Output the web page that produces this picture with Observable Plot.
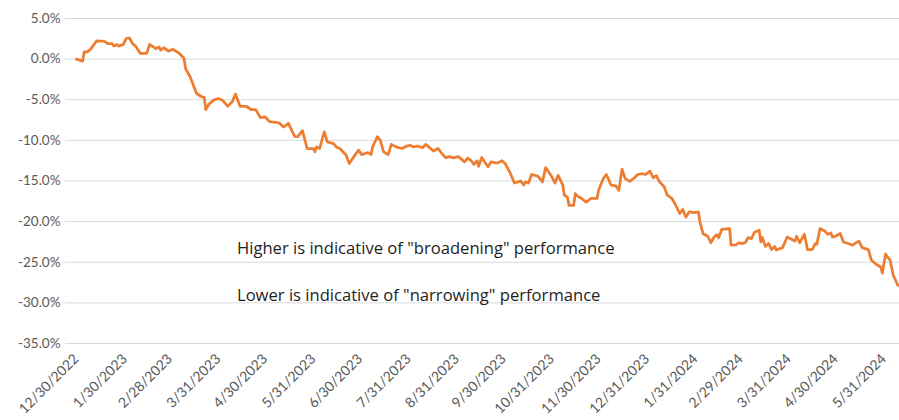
<!DOCTYPE html>
<html><head><meta charset="utf-8">
<script src="https://cdn.jsdelivr.net/npm/d3@7"></script>
<script src="https://cdn.jsdelivr.net/npm/@observablehq/plot@0.6"></script>
<style>body{margin:0;background:#fff;}</style>
</head><body><div id="chart"></div>
<script>
const dates = [
"2022-12-30","2023-01-03","2023-01-04","2023-01-06","2023-01-08","2023-01-12","2023-01-17","2023-01-19","2023-01-22","2023-01-23",
"2023-01-25","2023-01-26","2023-01-29","2023-01-31","2023-02-02","2023-02-04","2023-02-06","2023-02-09","2023-02-13","2023-02-15",
"2023-02-19","2023-02-21","2023-02-22","2023-02-24","2023-02-27","2023-03-02","2023-03-06","2023-03-09","2023-03-10","2023-03-13",
"2023-03-17","2023-03-20","2023-03-22","2023-03-23","2023-03-25","2023-03-28","2023-03-31","2023-04-03","2023-04-06","2023-04-09",
"2023-04-11","2023-04-14","2023-04-18","2023-04-21","2023-04-24","2023-04-27","2023-04-30","2023-05-03","2023-05-09","2023-05-12",
"2023-05-15","2023-05-19","2023-05-21","2023-05-24","2023-05-27","2023-05-31","2023-06-01","2023-06-02","2023-06-04","2023-06-07",
"2023-06-09","2023-06-13","2023-06-15","2023-06-17","2023-06-21","2023-06-23","2023-06-26","2023-06-29","2023-07-01","2023-07-05",
"2023-07-07","2023-07-08","2023-07-11","2023-07-13","2023-07-15","2023-07-18","2023-07-20","2023-07-23","2023-07-27","2023-07-30",
"2023-08-01","2023-08-03","2023-08-06","2023-08-09","2023-08-11","2023-08-13","2023-08-16","2023-08-19","2023-08-22","2023-08-24",
"2023-08-26","2023-08-29","2023-09-01","2023-09-05","2023-09-07","2023-09-09","2023-09-11","2023-09-13","2023-09-14","2023-09-16",
"2023-09-20","2023-09-22","2023-09-26","2023-09-29","2023-10-01","2023-10-04","2023-10-07","2023-10-11","2023-10-13","2023-10-14",
"2023-10-16","2023-10-18","2023-10-22","2023-10-25","2023-10-27","2023-10-30","2023-10-31","2023-11-02","2023-11-04","2023-11-07",
"2023-11-08","2023-11-10","2023-11-11","2023-11-14","2023-11-15","2023-11-17","2023-11-18","2023-11-22","2023-11-25","2023-11-29",
"2023-11-30","2023-12-03","2023-12-05","2023-12-07","2023-12-08","2023-12-11","2023-12-13","2023-12-15","2023-12-17","2023-12-20",
"2023-12-23","2023-12-25","2023-12-28","2023-12-30","2024-01-02","2024-01-04","2024-01-06","2024-01-08","2024-01-11","2024-01-13",
"2024-01-16","2024-01-18","2024-01-21","2024-01-23","2024-01-25","2024-01-27","2024-01-30","2024-02-02","2024-02-03","2024-02-05",
"2024-02-08","2024-02-10","2024-02-12","2024-02-14","2024-02-15","2024-02-17","2024-02-22","2024-02-23","2024-02-26","2024-02-28",
"2024-03-01","2024-03-03","2024-03-05","2024-03-07","2024-03-09","2024-03-12","2024-03-13","2024-03-14","2024-03-16","2024-03-18",
"2024-03-20","2024-03-22","2024-03-23","2024-03-27","2024-03-30","2024-04-02","2024-04-04","2024-04-05","2024-04-07","2024-04-10",
"2024-04-12","2024-04-15","2024-04-17","2024-04-18","2024-04-20","2024-04-23","2024-04-25","2024-04-27","2024-04-28","2024-04-30",
"2024-05-03","2024-05-05","2024-05-08","2024-05-11","2024-05-13","2024-05-15","2024-05-17","2024-05-21","2024-05-23","2024-05-26",
"2024-05-29","2024-05-30","2024-06-01","2024-06-04","2024-06-06","2024-06-09"
];
const values = [
0.0,-0.25,0.9,0.9,1.2,2.25,2.2,1.9,1.9,1.6,
1.8,1.6,1.8,2.55,2.6,1.9,1.6,0.7,0.7,1.8,
1.3,1.5,1.1,1.4,1.0,1.2,0.7,0.1,-1.15,-2.2,
-4.2,-4.6,-4.7,-6.2,-5.55,-5.05,-4.85,-5.1,-5.8,-5.25,
-4.3,-5.8,-5.8,-6.2,-6.2,-7.2,-7.1,-7.7,-7.85,-8.35,
-7.9,-9.5,-9.55,-8.8,-11.0,-11.0,-11.4,-10.8,-11.0,-8.95,
-10.2,-10.4,-10.85,-11.0,-11.8,-12.85,-12.0,-11.2,-11.75,-11.5,
-11.75,-10.8,-9.55,-10.0,-11.4,-11.75,-10.5,-10.8,-11.0,-10.7,
-10.6,-10.8,-10.7,-10.9,-10.5,-10.8,-11.3,-11.0,-11.75,-12.15,
-12.0,-12.15,-12.0,-12.65,-12.2,-12.45,-12.95,-12.5,-13.2,-12.1,
-13.25,-12.65,-12.8,-12.5,-12.85,-13.9,-15.25,-15.0,-15.5,-15.1,
-15.25,-14.2,-14.4,-15.1,-13.35,-14.2,-14.5,-15.25,-14.3,-15.5,
-16.75,-17.0,-18.0,-18.0,-16.55,-16.95,-17.0,-17.6,-17.15,-17.15,
-16.1,-14.7,-14.2,-15.1,-15.5,-15.6,-16.15,-13.55,-14.7,-15.05,
-14.6,-14.2,-14.1,-14.2,-13.8,-14.6,-14.35,-15.1,-15.7,-16.75,
-17.15,-17.8,-19.0,-18.5,-19.45,-18.8,-18.9,-18.8,-20.05,-21.5,
-21.8,-22.6,-21.9,-21.6,-22.0,-20.95,-20.85,-22.9,-22.85,-22.6,
-22.7,-22.6,-21.95,-22.1,-21.3,-21.05,-22.5,-21.95,-23.05,-22.7,
-23.45,-23.05,-23.5,-23.2,-21.9,-22.2,-22.4,-21.8,-22.6,-21.55,
-23.45,-23.45,-22.7,-22.8,-20.85,-21.15,-21.55,-21.4,-21.9,-21.8,
-21.45,-22.5,-22.7,-22.9,-22.6,-22.4,-23.2,-23.45,-24.75,-25.25,
-25.6,-26.35,-24.0,-24.75,-26.6,-27.85
];
const xTickLabels = ["12/30/2022","1/30/2023","2/28/2023","3/31/2023","4/30/2023","5/31/2023","6/30/2023","7/31/2023","8/31/2023","9/30/2023","10/31/2023","11/30/2023","12/31/2023","1/31/2024","2/29/2024","3/31/2024","4/30/2024","5/31/2024"];
const yTicks = [5,0,-5,-10,-15,-20,-25,-30,-35];
const xDomain = ["2022-12-23","2024-06-10"];
const notes = ["Higher is indicative of \"broadening\" performance","Lower is indicative of \"narrowing\" performance"];
const noteDates = ["2023-04-12","2023-04-12"];
const noteValues = [-23.3,-29.1];

const parseISO = d3.utcParse("%Y-%m-%d");
const parseUS = d3.utcParse("%m/%d/%Y");
const fmtUS = d3.utcFormat("%-m/%-d/%Y");
const data = dates.map((d,i)=>({date: parseISO(d), value: values[i]}));
const tickDates = xTickLabels.map(parseUS);
const noteData = notes.map((t,i)=>({text:t, date: parseISO(noteDates[i]), value: noteValues[i]}));

const chart = Plot.plot({
  width: 899,
  height: 420,
  marginLeft: 65,
  marginRight: 0,
  marginTop: 18,
  marginBottom: 77,
  style: {fontFamily: "Lato, 'Open Sans', sans-serif", fontSize: "14px", color: "#595959", background: "#fff"},
  x: {type: "utc", domain: xDomain.map(parseISO)},
  y: {domain: [-35, 5]},
  marks: [
    Plot.gridY(yTicks, {stroke: "#d9d9d9", strokeOpacity: 1, strokeWidth: 1}),
    Plot.axisY(yTicks, {tickSize: 0, tickPadding: 5, tickFormat: d => d.toFixed(1) + "%", label: null, fill: "#595959", fontSize: 13.5}),
    Plot.axisX(tickDates, {tickSize: 0, tickPadding: 13, tickRotate: -45, tickFormat: fmtUS, label: null, fill: "#595959", fontSize: 14}),
    Plot.lineY(data, {x: "date", y: "value", stroke: "#ED7D31", strokeWidth: 2.75, strokeLinejoin: "round"}),
    Plot.text(noteData, {x: "date", y: "value", text: "text", textAnchor: "start", fontSize: 16.6, fontFamily: "'Open Sans', sans-serif", fill: "#1e1e1e"})
  ]
});
document.getElementById("chart").appendChild(chart);
</script>
</body></html>
